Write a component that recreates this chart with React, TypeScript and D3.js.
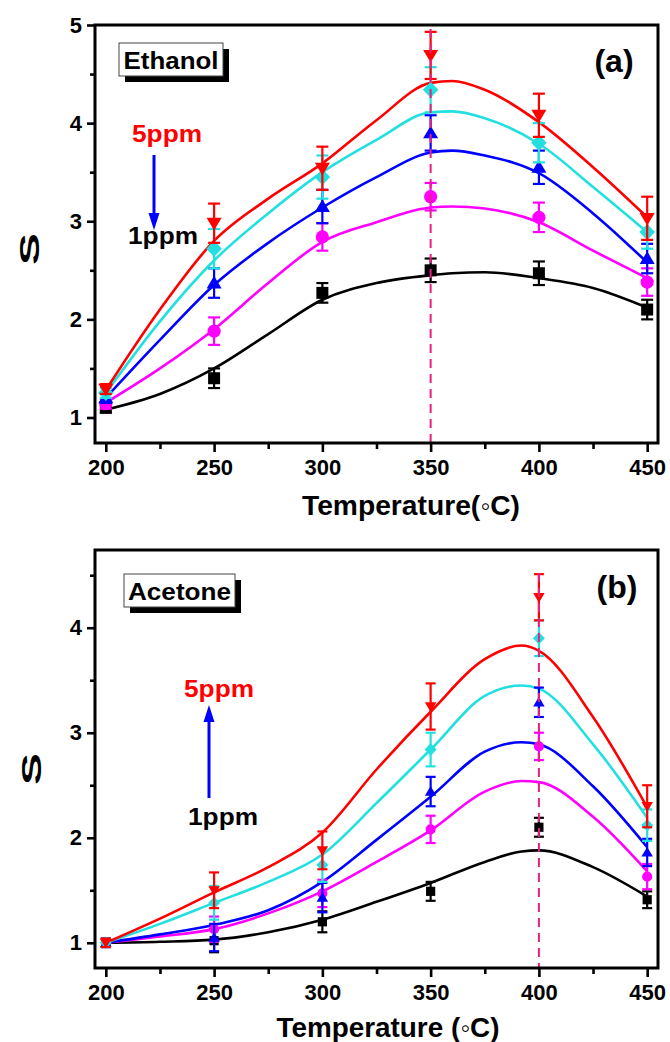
import { useRef, useEffect } from 'react';
import * as d3 from 'd3';

const temps = [200, 250, 300, 350, 400, 450];
const xMajor = [200, 250, 300, 350, 400, 450];
const xMinor = [225, 275, 325, 375, 425];

// (a) ethanol, measured response 1..5 ppm
const ethanol1 = [1.1, 1.4, 2.27, 2.5, 2.47, 2.1];
const ethanol2 = [1.14, 1.88, 2.84, 3.25, 3.04, 2.38];
const ethanol3 = [1.2, 2.37, 3.15, 3.9, 3.55, 2.62];
const ethanol4 = [1.25, 2.72, 3.45, 4.34, 3.8, 2.89];
const ethanol5 = [1.29, 2.98, 3.54, 4.69, 4.08, 3.03];

// (a) error bars
const ethanolErr1 = [0.05, 0.1, 0.1, 0.12, 0.12, 0.1];
const ethanolErr2 = [0.05, 0.14, 0.14, 0.14, 0.15, 0.14];
const ethanolErr3 = [0.05, 0.15, 0.17, 0.18, 0.17, 0.15];
const ethanolErr4 = [0.05, 0.2, 0.22, 0.23, 0.2, 0.17];
const ethanolErr5 = [0.05, 0.2, 0.22, 0.24, 0.22, 0.22];

// (a) fitted curves
const ethanolFitT = [200, 225, 250, 275, 300, 325, 350, 360, 375, 400, 425, 450];
const ethanolFit1 = [1.08, 1.24, 1.5, 1.85, 2.2, 2.37, 2.45, 2.47, 2.48, 2.42, 2.32, 2.12];
const ethanolFit2 = [1.15, 1.5, 1.9, 2.37, 2.79, 2.99, 3.14, 3.15, 3.13, 2.99, 2.7, 2.42];
const ethanolFit3 = [1.2, 1.79, 2.35, 2.78, 3.14, 3.45, 3.7, 3.72, 3.67, 3.49, 3.08, 2.58];
const ethanolFit4 = [1.25, 1.98, 2.6, 3.08, 3.5, 3.83, 4.11, 4.12, 4.05, 3.79, 3.35, 2.89];
const ethanolFit5 = [1.28, 2.1, 2.8, 3.23, 3.59, 4.03, 4.41, 4.43, 4.34, 4.01, 3.55, 3.04];

// (b) acetone, measured response 1..5 ppm
const acetone1 = [1.0, 1.02, 1.2, 1.49, 2.1, 1.41];
const acetone2 = [1.0, 1.13, 1.47, 2.08, 2.87, 1.63];
const acetone3 = [1.0, 1.05, 1.43, 2.44, 3.29, 1.86];
const acetone4 = [1.0, 1.38, 1.74, 2.84, 3.9, 2.12];
const acetone5 = [1.0, 1.5, 1.88, 3.25, 4.29, 2.3];

// (b) error bars
const acetoneErr1 = [0.04, 0.11, 0.1, 0.09, 0.09, 0.08];
const acetoneErr2 = [0.04, 0.12, 0.13, 0.13, 0.13, 0.12];
const acetoneErr3 = [0.04, 0.13, 0.14, 0.14, 0.14, 0.13];
const acetoneErr4 = [0.04, 0.16, 0.16, 0.16, 0.17, 0.15];
const acetoneErr5 = [0.04, 0.17, 0.18, 0.22, 0.22, 0.2];

// (b) fitted curves
const acetoneFitT = [200, 225, 250, 275, 300, 325, 350, 375, 392, 400, 425, 450];
const acetoneFit1 = [1.0, 1.01, 1.03, 1.1, 1.22, 1.39, 1.57, 1.77, 1.87, 1.88, 1.72, 1.44];
const acetoneFit2 = [1.0, 1.06, 1.13, 1.28, 1.49, 1.77, 2.07, 2.44, 2.54, 2.53, 2.2, 1.68];
const acetoneFit3 = [1.0, 1.08, 1.17, 1.31, 1.58, 1.98, 2.39, 2.82, 2.91, 2.89, 2.49, 1.91];
const acetoneFit4 = [1.0, 1.18, 1.38, 1.58, 1.84, 2.33, 2.84, 3.35, 3.45, 3.42, 2.89, 2.19];
const acetoneFit5 = [1.0, 1.23, 1.48, 1.72, 2.05, 2.65, 3.2, 3.7, 3.83, 3.78, 3.15, 2.29];

const colors = ['#000000', '#ff00ff', '#0000ff', '#22e0e0', '#ff0000'];
const shapes = ['square', 'circle', 'up', 'diamond', 'down'];
const font = "'Liberation Sans', Arial, Helvetica, sans-serif";

function symbolPath(shape, r) {
  const p = d3.path();
  if (shape === 'square') {
    p.rect(-r, -r, 2 * r, 2 * r);
  } else if (shape === 'circle') {
    p.arc(0, 0, r * 1.1, 0, 2 * Math.PI);
  } else if (shape === 'up') {
    p.moveTo(0, -r * 1.2);
    p.lineTo(r * 1.25, r * 0.9);
    p.lineTo(-r * 1.25, r * 0.9);
    p.closePath();
  } else if (shape === 'down') {
    p.moveTo(0, r * 1.2);
    p.lineTo(r * 1.25, -r * 0.9);
    p.lineTo(-r * 1.25, -r * 0.9);
    p.closePath();
  } else {
    p.moveTo(0, -r * 1.35);
    p.lineTo(r * 1.3, 0);
    p.lineTo(0, r * 1.35);
    p.lineTo(-r * 1.3, 0);
    p.closePath();
  }
  return p.toString();
}

function drawPanel(svg, cfg) {
  const x = d3.scaleLinear().domain([195, 455]).range([95, 658]);
  const y = d3.scaleLinear().domain(cfg.yDomain).range([cfg.bottom, cfg.top]);
  const g = svg.append('g');

  const line = d3
    .line()
    .x((d) => x(d[0]))
    .y((d) => y(d[1]))
    .curve(d3.curveMonotoneX);

  cfg.series.forEach((s, i) => {
    g.append('path')
      .attr('d', line(d3.zip(cfg.fitT, s.fit)))
      .attr('fill', 'none')
      .attr('stroke', colors[i])
      .attr('stroke-width', 2.6);
  });

  cfg.series.forEach((s, i) => {
    const cw = cfg.cap;
    const pts = g.selectAll(null).data(d3.zip(temps, s.values, s.err)).join('g');
    pts
      .append('line')
      .attr('x1', (d) => x(d[0]))
      .attr('x2', (d) => x(d[0]))
      .attr('y1', (d) => y(d[1] - d[2]))
      .attr('y2', (d) => y(d[1] + d[2]))
      .attr('stroke', colors[i])
      .attr('stroke-width', 2.2);
    [-1, 1].forEach((sgn) => {
      pts
        .append('line')
        .attr('x1', (d) => x(d[0]) - cw)
        .attr('x2', (d) => x(d[0]) + cw)
        .attr('y1', (d) => y(d[1] + sgn * d[2]))
        .attr('y2', (d) => y(d[1] + sgn * d[2]))
        .attr('stroke', colors[i])
        .attr('stroke-width', 2.2);
    });
    pts
      .append('path')
      .attr('d', symbolPath(shapes[i], cfg.marker))
      .attr('transform', (d) => `translate(${x(d[0])},${y(d[1])})`)
      .attr('fill', colors[i]);
  });

  // dashed guide at optimum temperature
  g.append('line')
    .attr('x1', x(cfg.optT))
    .attr('x2', x(cfg.optT))
    .attr('y1', y(cfg.optTop))
    .attr('y2', y(cfg.yDomain[0]))
    .attr('stroke', '#e8207f')
    .attr('stroke-width', 2)
    .attr('stroke-dasharray', '9,6');

  // axes
  const styleAxis = (sel) => {
    sel.select('.domain').remove();
    sel.selectAll('line').attr('stroke', '#000').attr('stroke-width', 2.6);
    sel
      .selectAll('text')
      .attr('fill', '#000')
      .style('font-family', font)
      .style('font-weight', 'bold')
      .style('font-size', '22px');
  };

  svg
    .append('g')
    .attr('transform', `translate(0,${cfg.bottom})`)
    .call(d3.axisBottom(x).tickValues(xMajor).tickSize(9).tickPadding(7).tickFormat(d3.format('d')))
    .call(styleAxis);
  svg
    .append('g')
    .attr('transform', `translate(0,${cfg.bottom})`)
    .call(d3.axisBottom(x).tickValues(xMinor).tickSize(6).tickFormat(() => ''))
    .call(styleAxis);
  svg
    .append('g')
    .attr('transform', 'translate(95,0)')
    .call(d3.axisLeft(y).tickValues(cfg.yMajor).tickSize(8).tickPadding(5).tickFormat(d3.format('d')))
    .call(styleAxis);
  svg
    .append('g')
    .attr('transform', 'translate(95,0)')
    .call(d3.axisLeft(y).tickValues(cfg.yMinor).tickSize(5).tickFormat(() => ''))
    .call(styleAxis);

  svg
    .append('rect')
    .attr('x', 95)
    .attr('y', cfg.top)
    .attr('width', 563)
    .attr('height', cfg.bottom - cfg.top)
    .attr('fill', 'none')
    .attr('stroke', '#000')
    .attr('stroke-width', 3);

  // axis titles
  svg
    .append('text')
    .attr('x', cfg.titleX)
    .attr('y', cfg.titleY)
    .attr('text-anchor', 'middle')
    .attr('textLength', cfg.titleLen)
    .attr('lengthAdjust', 'spacingAndGlyphs')
    .style('font-family', font)
    .style('font-weight', 'bold')
    .style('font-size', '27px')
    .text(cfg.xTitle);
  svg
    .append('text')
    .attr('transform', `translate(${cfg.sX},${cfg.sY}) rotate(-90)`)
    .attr('text-anchor', 'middle')
    .attr('dominant-baseline', 'central')
    .attr('textLength', 32)
    .attr('lengthAdjust', 'spacingAndGlyphs')
    .style('font-family', font)
    .style('font-weight', 'bold')
    .style('font-size', '28px')
    .text('S');

  // gas tag with shadow
  const t = cfg.tag;
  svg.append('rect').attr('x', t.x + 6).attr('y', t.y + 6).attr('width', t.w).attr('height', t.h).attr('fill', '#000');
  svg
    .append('rect')
    .attr('x', t.x)
    .attr('y', t.y)
    .attr('width', t.w)
    .attr('height', t.h)
    .attr('fill', '#fff')
    .attr('stroke', '#444')
    .attr('stroke-width', 1);
  svg
    .append('text')
    .attr('x', t.x + t.w / 2)
    .attr('y', t.y + 26)
    .attr('text-anchor', 'middle')
    .attr('textLength', t.textLen)
    .attr('lengthAdjust', 'spacingAndGlyphs')
    .style('font-family', font)
    .style('font-weight', 'bold')
    .style('font-size', '24px')
    .text(t.label);

  // panel letter
  svg
    .append('text')
    .attr('x', cfg.letterX)
    .attr('y', cfg.letterY)
    .attr('text-anchor', 'middle')
    .style('font-family', font)
    .style('font-weight', 'bold')
    .style('font-size', '32px')
    .text(cfg.letter);

  // concentration arrow
  const a = cfg.arrow;
  const addLabel = (txt, lx, ly, color) =>
    svg
      .append('text')
      .attr('x', lx)
      .attr('y', ly)
      .attr('textLength', 70)
      .attr('lengthAdjust', 'spacingAndGlyphs')
      .attr('fill', color)
      .style('font-family', font)
      .style('font-weight', 'bold')
      .style('font-size', '24px')
      .text(txt);
  addLabel('5ppm', a.hiX, a.hiY, '#ff0000');
  addLabel('1ppm', a.loX, a.loY, '#000');
  const dir = a.tip > a.tail ? 1 : -1;
  svg
    .append('line')
    .attr('x1', a.x)
    .attr('x2', a.x)
    .attr('y1', a.tail)
    .attr('y2', a.tip - dir * 14)
    .attr('stroke', '#0000ff')
    .attr('stroke-width', 3);
  svg
    .append('path')
    .attr('d', `M${a.x},${a.tip} L${a.x - 5.5},${a.tip - dir * 17} L${a.x + 5.5},${a.tip - dir * 17} Z`)
    .attr('fill', '#0000ff');
}

export default function App() {
  const svgRef = useRef(null);
  const width = 670;
  const height = 1042;

  useEffect(() => {
    const svg = d3.select(svgRef.current);
    svg.selectAll('*').remove();

    drawPanel(svg, {
      top: 25,
      bottom: 443,
      yDomain: [0.74, 5],
      yMajor: [1, 2, 3, 4, 5],
      yMinor: [1.5, 2.5, 3.5, 4.5],
      fitT: ethanolFitT,
      series: [
        { values: ethanol1, err: ethanolErr1, fit: ethanolFit1 },
        { values: ethanol2, err: ethanolErr2, fit: ethanolFit2 },
        { values: ethanol3, err: ethanolErr3, fit: ethanolFit3 },
        { values: ethanol4, err: ethanolErr4, fit: ethanolFit4 },
        { values: ethanol5, err: ethanolErr5, fit: ethanolFit5 },
      ],
      cap: 6,
      marker: 6,
      optT: 350,
      optTop: 4.96,
      xTitle: 'Temperature(\u25E6C)',
      titleX: 411,
      titleY: 515,
      titleLen: 218,
      sX: 29,
      sY: 249,
      tag: { x: 119, y: 43, w: 104, h: 33, label: 'Ethanol', textLen: 95 },
      letter: '(a)',
      letterX: 614,
      letterY: 72,
      arrow: { x: 154, tail: 155, tip: 230, hiX: 132, hiY: 142, loX: 128, loY: 244 },
    });

    drawPanel(svg, {
      top: 550,
      bottom: 968,
      yDomain: [0.76, 4.74],
      yMajor: [1, 2, 3, 4],
      yMinor: [1.5, 2.5, 3.5, 4.5],
      fitT: acetoneFitT,
      series: [
        { values: acetone1, err: acetoneErr1, fit: acetoneFit1 },
        { values: acetone2, err: acetoneErr2, fit: acetoneFit2 },
        { values: acetone3, err: acetoneErr3, fit: acetoneFit3 },
        { values: acetone4, err: acetoneErr4, fit: acetoneFit4 },
        { values: acetone5, err: acetoneErr5, fit: acetoneFit5 },
      ],
      cap: 5,
      marker: 4.6,
      optT: 400,
      optTop: 4.52,
      xTitle: 'Temperature (\u25E6C)',
      titleX: 388,
      titleY: 1037,
      titleLen: 223,
      sX: 31,
      sY: 769,
      tag: { x: 124, y: 574, w: 111, h: 33, label: 'Acetone', textLen: 103 },
      letter: '(b)',
      letterX: 617,
      letterY: 598,
      arrow: { x: 209, tail: 798, tip: 705, hiX: 184, hiY: 697, loX: 188, loY: 825 },
    });
  }, []);

  return (
    <svg
      ref={svgRef}
      width={width}
      height={height}
      style={{ position: 'absolute', left: 0, top: 0, background: '#fff' }}
    ></svg>
  );
}
